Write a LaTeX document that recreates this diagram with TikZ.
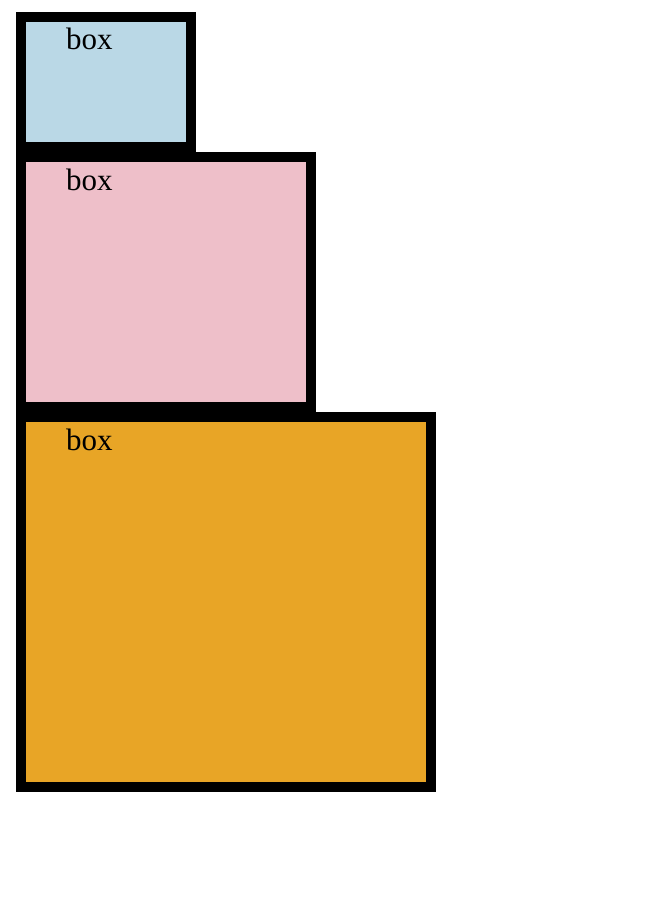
\documentclass[tikz,border=0pt]{standalone}
\usepackage{fontspec}
\setmainfont{Liberation Serif}
\definecolor{boxblue}{RGB}{186,216,230}
\definecolor{boxpink}{RGB}{238,191,201}
\definecolor{boxorange}{RGB}{232,165,38}
\begin{document}
\begin{tikzpicture}[x=1pt,y=-1pt,
  panel/.style={draw=black,line width=10pt,inner sep=0pt,outer sep=0pt,anchor=north west},
  lbl/.style={inner sep=0pt,anchor=base west,font=\fontsize{31}{37}\selectfont}]
\useasboundingbox (0,0) rectangle (652,904);
\node[panel,fill=boxblue,minimum width=170pt,minimum height=130pt] (b1) at (21,17) {};
\node[panel,fill=boxpink,minimum width=290pt,minimum height=250pt] (b2) at (21,157) {};
\node[panel,fill=boxorange,minimum width=410pt,minimum height=370pt] (b3) at (21,417) {};
\node[lbl] (t1) at (66,50) {box};
\node[lbl] (t2) at (66,190) {box};
\node[lbl] (t3) at (66,450) {box};
\end{tikzpicture}
\end{document}
